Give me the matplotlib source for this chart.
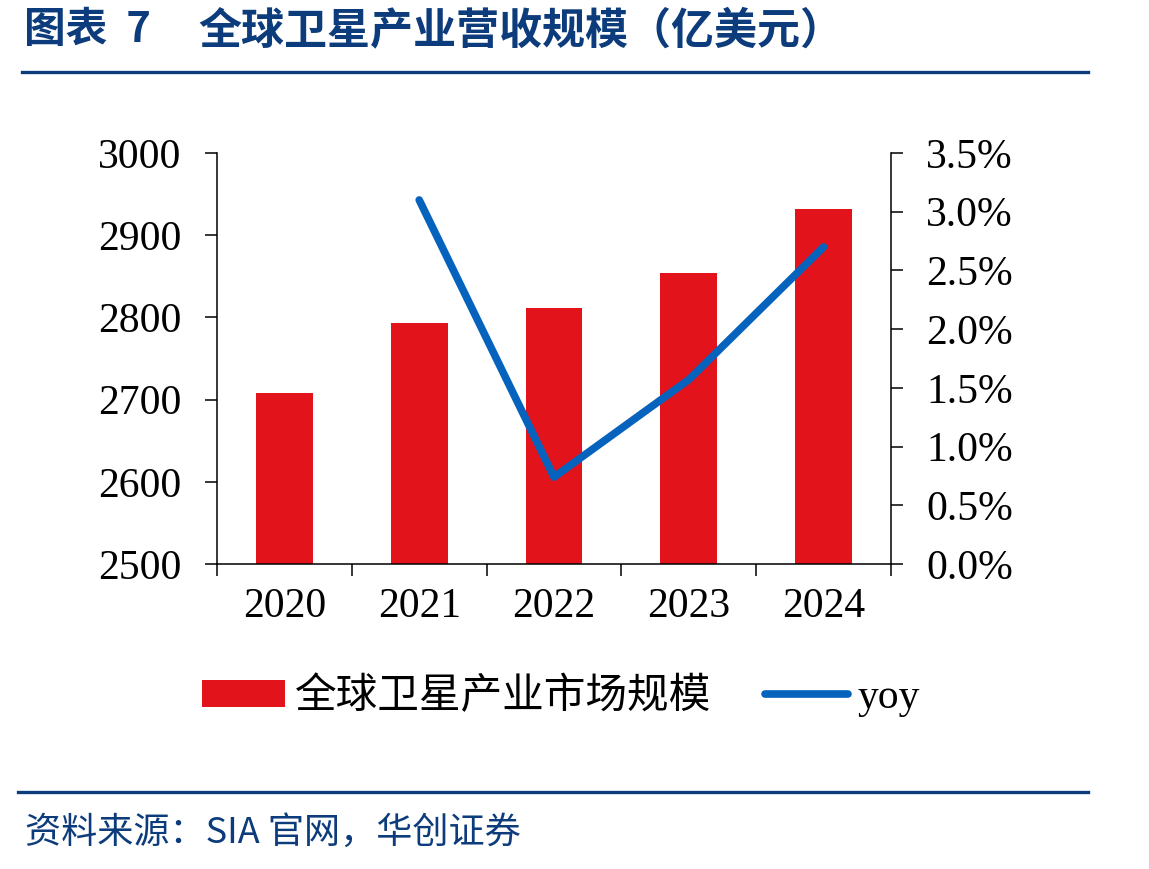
import numpy as np
import matplotlib
matplotlib.use("Agg")
import matplotlib.pyplot as plt
from matplotlib.lines import Line2D
from matplotlib.patches import Patch
from matplotlib.ticker import FuncFormatter, FixedLocator

years = ["2020", "2021", "2022", "2023", "2024"]
revenue = [2708, 2793, 2811, 2854, 2932]
yoy_pct = [np.nan, 3.10, 0.74, 1.57, 2.70]

title_num = "图表  7"
title_main = "全球卫星产业营收规模（亿美元）"
bar_label = "全球卫星产业市场规模"
line_label = "yoy"
source = "资料来源：SIA 官网，华创证券"

RED = "#E3131C"
BLUE = "#0562BD"
NAVY = "#0D3C7C"
SERIF = ["Liberation Serif", "Noto Sans CJK SC"]
CJK = ["Noto Sans CJK SC", "Liberation Serif"]

W, H = 1149, 869
fig = plt.figure(figsize=(W / 100, H / 100), dpi=100)

ax = fig.add_axes([217 / W, 1 - 564 / H, (891 - 217) / W, (564 - 153) / H])
x = np.arange(len(years))
ax.bar(x, revenue, width=0.42, color=RED, zorder=2)
ax.set_xlim(-0.5, len(years) - 0.5)
ax.set_ylim(2500, 3000)
ax.set_yticks(np.arange(2500, 3001, 100))
ax.xaxis.set_major_locator(FixedLocator(np.arange(-0.5, len(years), 1.0)))
ax.xaxis.set_minor_locator(FixedLocator(x))
ax.set_xticklabels([])
ax.set_xticklabels(years, minor=True)
ax.tick_params(axis="x", which="major", direction="out", length=8.5, width=1.1)
ax.tick_params(axis="x", which="minor", length=0, pad=17, labelsize=30)
ax.tick_params(axis="y", direction="out", length=8.5, width=1.1, pad=17, labelsize=30)
for s in ["top", "right"]:
    ax.spines[s].set_visible(False)
for s in ["left", "bottom"]:
    ax.spines[s].set_linewidth(1.1)
for lab in ax.get_yticklabels() + ax.get_xticklabels(minor=True):
    lab.set_family(SERIF)

ax2 = ax.twinx()
ax2.plot(x, np.array(yoy_pct) / 100, color=BLUE, lw=5.5, solid_capstyle="round", zorder=3)
ax2.set_ylim(0, 0.035)
ax2.set_yticks(np.arange(0, 0.0351, 0.005))
ax2.yaxis.set_major_formatter(FuncFormatter(lambda v, p: f"{v*100:.1f}%"))
ax2.tick_params(axis="y", direction="out", length=8.5, width=1.1, pad=17, labelsize=30)
for s in ["top", "left", "bottom"]:
    ax2.spines[s].set_visible(False)
ax2.spines["right"].set_linewidth(1.1)
for lab in ax2.get_yticklabels():
    lab.set_family(SERIF)

handles = [Patch(facecolor=RED, edgecolor="none"),
           Line2D([0], [0], color=BLUE, lw=5.5, solid_capstyle="round")]
fig.legend(handles, [bar_label, line_label], loc="center", bbox_to_anchor=(561 / W, 1 - 697 / H),
           ncol=2, frameon=False, prop={"family": SERIF, "size": 30},
           handlelength=2.0, handleheight=0.62, handletextpad=0.22, columnspacing=1.3)

fig.text(24 / W, 1 - 30 / H, title_num, family=CJK, fontsize=30, fontweight="bold",
         color=NAVY, va="center", ha="left")
fig.text(198 / W, 1 - 30 / H, title_main, family=CJK, fontsize=31, fontweight="bold",
         color=NAVY, va="center", ha="left")
fig.add_artist(Line2D([22 / W, 1088 / W], [1 - 72 / H, 1 - 72 / H], color=NAVY, lw=2.4))
fig.add_artist(Line2D([18 / W, 1088 / W], [1 - 792 / H, 1 - 792 / H], color=NAVY, lw=2.4))
fig.text(25 / W, 1 - 833 / H, source, family=CJK, fontsize=26, style="italic",
         color=NAVY, va="center", ha="left")

fig.savefig("out.png", dpi=100)
